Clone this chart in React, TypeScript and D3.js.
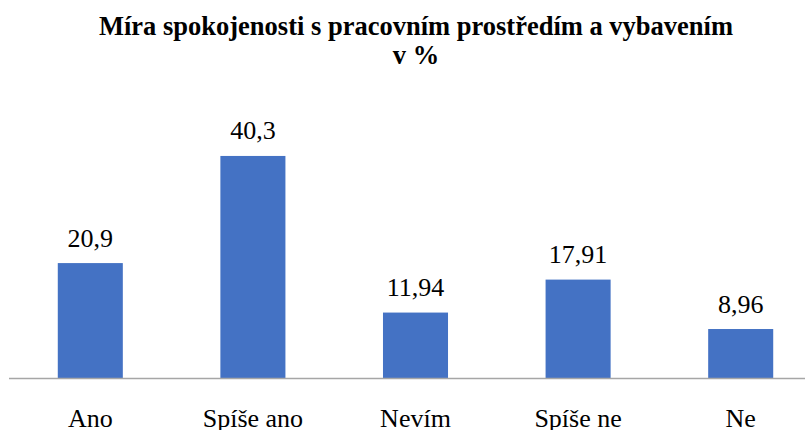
import React from "react";
import * as d3 from "d3";

const categories = ["Ano", "Spíše ano", "Nevím", "Spíše ne", "Ne"];
const values = [20.9, 40.3, 11.94, 17.91, 8.96];
const valueLabels = ["20,9", "40,3", "11,94", "17,91", "8,96"];
const titleLines = ["Míra spokojenosti s pracovním prostředím a vybavením", "v %"];

const W = 805;
const H = 430;

export default function App() {
  const x = d3.scaleBand<string>().domain(categories).range([9, 822]).paddingInner(0.6).paddingOuter(0.3);
  const y = d3.scaleLinear().domain([0, 45]).range([378.5, 130]);
  const font = "Liberation Serif";
  return (
    <svg width={W} height={H} style={{ position: "absolute", left: 0, top: 0, background: "#fff" }}>
      {titleLines.map((t, i) => (
        <text key={i} x={416} y={35 + i * 29} textAnchor="middle" fontFamily={font} fontWeight="bold" fontSize={26.5} fill="#000">
          {t}
        </text>
      ))}
      {values.map((v, i) => (
        <rect key={i} x={x(categories[i])} y={y(v)} width={x.bandwidth()} height={y(0) - y(v)} fill="#4472C4" />
      ))}
      <line x1={9} x2={W} y1={y(0)} y2={y(0)} stroke="#A6A6A6" strokeWidth={1.5} />
      {values.map((v, i) => (
        <text key={i} x={(x(categories[i]) as number) + x.bandwidth() / 2} y={y(v) - 16.5} textAnchor="middle" fontFamily={font} fontSize={26} fill="#000">
          {valueLabels[i]}
        </text>
      ))}
      {categories.map((c, i) => (
        <text key={i} x={(x(c) as number) + x.bandwidth() / 2} y={427} textAnchor="middle" fontFamily={font} fontSize={26} fill="#000">
          {c}
        </text>
      ))}
    </svg>
  );
}
